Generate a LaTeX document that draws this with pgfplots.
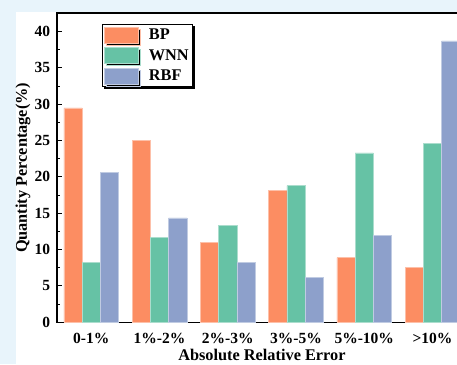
\documentclass[border=0pt]{standalone}
\usepackage{fontspec}
\setmainfont{Liberation Serif}
\usepackage{pgfplots}
\pgfplotsset{compat=1.18}
\usetikzlibrary{shadows}
\definecolor{bp}{HTML}{FC8D62}
\definecolor{wnn}{HTML}{66C2A5}
\definecolor{rbf}{HTML}{8DA0CB}
\definecolor{bgblue}{RGB}{232,244,251}
\pgfplotsset{legpatch/.style={/pgfplots/legend image code/.code={\fill[##1] (0pt,-8pt) rectangle (34pt,8pt);}}}
\begin{document}
\begin{tikzpicture}[x=1pt,y=1pt]
\path[use as bounding box] (0,0) rectangle (457,364);
\clip (0,0) rectangle (457,364);
\fill[bgblue] (0,0) rectangle (457,364);
\fill[white] (16,0) rectangle (457,352);
\begin{axis}[
  at={(57.2pt,41.7pt)}, anchor=south west,
  scale only axis, width=409.4pt, height=309pt,
  ybar=0pt, bar width=0.268,
  xmin=-0.5, xmax=5.5, ymin=0, ymax=42.5,
  xtick={0,...,5},
  xticklabels={0-1\%,1\%-2\%,2\%-3\%,3\%-5\%,5\%-10\%,>10\%},
  ytick={0,5,...,40}, minor y tick num=1,
  tick align=inside, ytick pos=left, xtick style={draw=none},
  major tick length=5pt, minor tick length=2.5pt,
  every tick/.style={black, line width=1pt},
  axis line style={line width=1.6pt},
  /pgf/number format/assume math mode=true,
  tick label style={font=\fontsize{15.5}{17}\selectfont\bfseries},
  yticklabel style={inner sep=0pt, anchor=east, xshift=-7pt},
  xticklabel style={inner sep=0pt, anchor=base, yshift=-20.7pt},
  xlabel={Absolute Relative Error},
  ylabel={Quantity Percentage(\%)},
  label style={font=\fontsize{16.3}{18}\selectfont\bfseries},
  xlabel style={at={(axis description cs:0.5,-0.1245)}, anchor=base, inner sep=0pt},
  ylabel style={at={(axis description cs:-0.0835,0.5)}, anchor=center, inner sep=0pt},
  legend style={at={(axis description cs:0.1094,0.9654)}, anchor=north west,
    draw=black, line width=0.8pt, fill=white,
    general shadow={fill=black, shadow xshift=2pt, shadow yshift=-2pt},
    font=\fontsize{16.3}{18}\selectfont\bfseries,
    inner xsep=2pt, inner ysep=2.5pt, row sep=4pt,
    /tikz/every odd column/.append style={column sep=8pt}},
  legend cell align=left,
]
\addplot[fill=bp, draw=bp!55!white, line width=0.5pt, legpatch] coordinates {(0,29.5) (1,25.0) (2,11.0) (3,18.15) (4,8.9) (5,7.55)};
\addplot[fill=wnn, draw=wnn!55!white, line width=0.5pt, legpatch] coordinates {(0,8.25) (1,11.65) (2,13.35) (3,18.8) (4,23.3) (5,24.65)};
\addplot[fill=rbf, draw=rbf!55!white, line width=0.5pt, legpatch] coordinates {(0,20.6) (1,14.35) (2,8.2) (3,6.15) (4,12.0) (5,38.7)};
\legend{BP,WNN,RBF}
\end{axis}
\end{tikzpicture}
\end{document}
